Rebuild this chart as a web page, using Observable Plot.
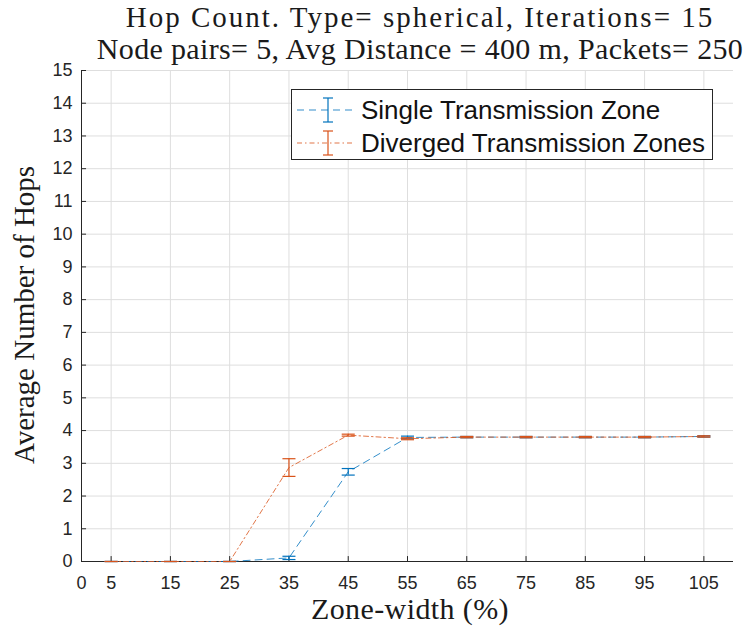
<!DOCTYPE html>
<html>
<head>
<meta charset="utf-8">
<script src="https://cdn.jsdelivr.net/npm/d3@7"></script>
<script src="https://cdn.jsdelivr.net/npm/@observablehq/plot@0.6"></script>
<style>
  body { margin: 0; background: #fff; }
  #wrap { position: relative; width: 745px; height: 629px; overflow: hidden; background: #fff; }
  .serif { position: absolute; white-space: nowrap; font-family: "Liberation Serif", "Times New Roman", serif; color: #1a1a1a; font-size: 30px; line-height: 24px; }
  .tline { left: 420px; transform: translateX(-50%); }
  #t1 { top: 5px; font-size: 29px; letter-spacing: 2.0px; }
  #t2 { top: 37px; letter-spacing: 0.35px; }
  #xlabel { left: 410px; top: 597px; transform: translateX(-50%); letter-spacing: 0.4px; }
  #ylabel { left: 24px; top: 315px; font-size: 29px; transform: translate(-50%, -50%) rotate(-90deg); }
  #chart { position: absolute; left: 0; top: 52px; }
  #legend { position: absolute; left: 291px; top: 89px; width: 420px; height: 69px; border: 1px solid #262626; background: #fff; }
  #legend svg { display: block; }
</style>
</head>
<body>
<div id="wrap">
  <div id="chart"></div>
  <div class="serif tline" id="t1">Hop Count. Type= spherical, Iterations= 15</div>
  <div class="serif tline" id="t2">Node pairs= 5, Avg Distance = 400 m, Packets= 250</div>
  <div class="serif" id="xlabel">Zone-width (%)</div>
  <div class="serif" id="ylabel">Average Number of Hops</div>
  <div id="legend"></div>
</div>
<script>
// ---- data ----
const zoneWidth = [5, 15, 25, 35, 45, 55, 65, 75, 85, 95, 105];
const singleHops = [0, 0, 0, 0.11, 2.74, 3.79, 3.8, 3.8, 3.8, 3.8, 3.82];
const singleErr  = [0, 0, 0, 0.05, 0.10, 0.04, 0.02, 0.02, 0.02, 0.02, 0.02];
const divergedHops = [0, 0, 0, 2.87, 3.86, 3.75, 3.8, 3.8, 3.8, 3.8, 3.82];
const divergedErr  = [0, 0, 0, 0.27, 0.03, 0.03, 0.02, 0.02, 0.02, 0.02, 0.02];
const xTicks = [0, 5, 15, 25, 35, 45, 55, 65, 75, 85, 95, 105];
const yTicks = [0, 1, 2, 3, 4, 5, 6, 7, 8, 9, 10, 11, 12, 13, 14, 15];
const seriesNames = ["Single Transmission Zone", "Diverged Transmission Zones"];

const BLUE = "#0072BD", ORANGE = "#D95319";
const CAP = 1.1; // half cap width in x units

const rows = zoneWidth.map((z, i) => ({
  zone: z,
  single: singleHops[i], sErr: singleErr[i],
  diverged: divergedHops[i], dErr: divergedErr[i]
}));

const FONT = "'Liberation Sans', Arial, sans-serif";
const plot = Plot.plot({
  width: 745, height: 577,
  marginTop: 18, marginBottom: 68, marginLeft: 81, marginRight: 12,
  x: { domain: [0, 110] },
  y: { domain: [0, 15] },
  style: { fontFamily: FONT, fontSize: "18px", color: "#262626", background: "transparent" },
  marks: [
    Plot.gridX(zoneWidth, { stroke: "#dedede", strokeOpacity: 1 }),
    Plot.gridY(yTicks, { stroke: "#dedede", strokeOpacity: 1 }),
    Plot.axisX(xTicks, { tickSize: 0, tickPadding: 15, label: null, fontSize: 18, tickFormat: d => String(d) }),
    Plot.axisY(yTicks, { tickSize: 0, tickPadding: 9, label: null, fontSize: 18, tickFormat: d => String(d) }),
    Plot.ruleY(yTicks, { x1: 0, x2: 0.85, stroke: "#262626" }),
    Plot.ruleX(xTicks, { y1: 0, y2: 0.15, stroke: "#262626" }),
    Plot.ruleX([0], { stroke: "#262626" }),
    Plot.ruleY([0], { stroke: "#262626" }),
    // Single series
    Plot.line(rows, { x: "zone", y: "single", stroke: BLUE, strokeWidth: 1, strokeOpacity: 0.8, strokeDasharray: "7,5" }),
    Plot.ruleX(rows, { x: "zone", y1: d => d.single - d.sErr, y2: d => d.single + d.sErr, stroke: BLUE, strokeWidth: 1.2 }),
    Plot.link(rows, { x1: d => d.zone - CAP, x2: d => d.zone + CAP, y1: d => d.single - d.sErr, y2: d => d.single - d.sErr, stroke: BLUE, strokeWidth: 1.2 }),
    Plot.link(rows, { x1: d => d.zone - CAP, x2: d => d.zone + CAP, y1: d => d.single + d.sErr, y2: d => d.single + d.sErr, stroke: BLUE, strokeWidth: 1.2 }),
    // Diverged series
    Plot.line(rows, { x: "zone", y: "diverged", stroke: ORANGE, strokeWidth: 1, strokeOpacity: 0.8, strokeDasharray: "5,3,1.5,3" }),
    Plot.ruleX(rows, { x: "zone", y1: d => d.diverged - d.dErr, y2: d => d.diverged + d.dErr, stroke: ORANGE, strokeWidth: 1.2 }),
    Plot.link(rows, { x1: d => d.zone - CAP, x2: d => d.zone + CAP, y1: d => d.diverged - d.dErr, y2: d => d.diverged - d.dErr, stroke: ORANGE, strokeWidth: 1.2 }),
    Plot.link(rows, { x1: d => d.zone - CAP, x2: d => d.zone + CAP, y1: d => d.diverged + d.dErr, y2: d => d.diverged + d.dErr, stroke: ORANGE, strokeWidth: 1.2 })
  ]
});
document.getElementById("chart").appendChild(plot);

// ---- legend ----
const legendItems = [
  { name: seriesNames[0], color: BLUE, dash: "7,5" },
  { name: seriesNames[1], color: ORANGE, dash: "5,3,1.5,3" }
];
const lsvg = d3.select("#legend").append("svg").attr("width", 420).attr("height", 69);
legendItems.forEach((it, i) => {
  const cy = 20 + i * 33;
  const g = lsvg.append("g").attr("transform", `translate(0,${cy})`);
  g.append("line").attr("x1", 5).attr("x2", 61).attr("y1", 0).attr("y2", 0)
    .attr("stroke", it.color).attr("stroke-opacity", 0.8).attr("stroke-dasharray", it.dash);
  g.append("line").attr("x1", 36).attr("x2", 36).attr("y1", -12).attr("y2", 12).attr("stroke", it.color).attr("stroke-width", 1.2);
  g.append("line").attr("x1", 31).attr("x2", 41).attr("y1", -12).attr("y2", -12).attr("stroke", it.color).attr("stroke-width", 1.2);
  g.append("line").attr("x1", 31).attr("x2", 41).attr("y1", 12).attr("y2", 12).attr("stroke", it.color).attr("stroke-width", 1.2);
  g.append("text").attr("x", 69).attr("y", 0).attr("dy", "0.35em")
    .attr("font-family", FONT).attr("font-size", 26)
    .attr("fill", "#111").text(it.name);
});
</script>
</body>
</html>
